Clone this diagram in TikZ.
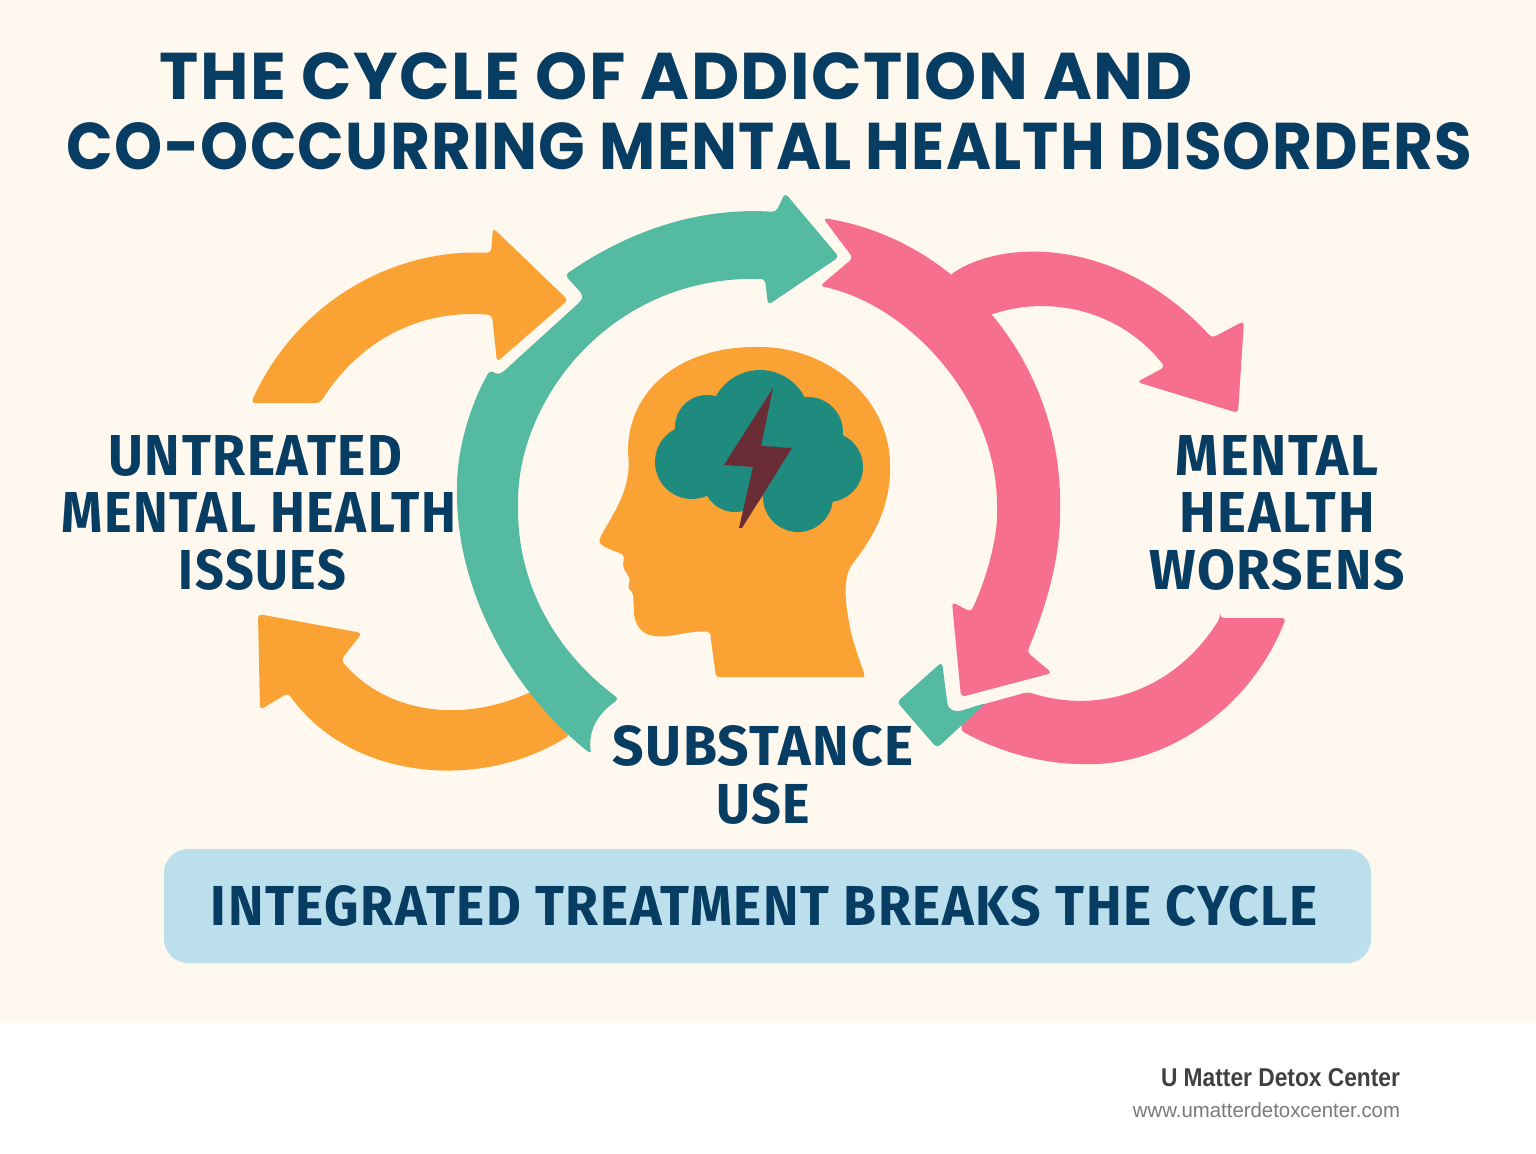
\documentclass[tikz,border=0pt]{standalone}
\usepackage{graphicx}
\usepackage{fontspec}
\setmainfont{Fira Sans}[LetterSpace=3]
\newfontfamily\titlefont{Poppins}[LetterSpace=2]
\newfontfamily\footfont{Liberation Sans}
\definecolor{paper}{HTML}{FEF8EE}
\definecolor{navy}{HTML}{083D63}
\definecolor{amber}{HTML}{FBA234}
\definecolor{mint}{HTML}{54BBA2}
\definecolor{rose}{HTML}{F66F8E}
\definecolor{deepteal}{HTML}{1F8A7E}
\definecolor{bolt}{HTML}{6B2D35}
\definecolor{bandblue}{HTML}{BBDFEC}
\newcommand{\fitline}[3]{\resizebox{#1pt}{#2pt}{#3}}
\tikzset{
  every node/.style={inner sep=0pt, outer sep=0pt},
  labeltext/.style={align=center, text=navy, font=\bfseries\fontsize{29}{28.7}\selectfont},
  titletext/.style={text=navy, font=\titlefont\bfseries},
  amberarrow/.style={fill=amber, rounded corners=2pt},
  mintarrow/.style={fill=mint, rounded corners=2pt},
  rosearrow/.style={fill=rose, rounded corners=2pt}
}
\begin{document}
\begin{tikzpicture}[x=0.5pt,y=-0.5pt]
\useasboundingbox (0,0) rectangle (1536,1154);
\fill[white] (0,0) rectangle (1536,1154);
\fill[paper] (0,0) rectangle (1536,1023);

\node[titletext] (titleone) at (676.5,76.5) {\fitline{516.5}{23.5}{THE CYCLE OF ADDICTION AND}};
\node[titletext] (titletwo) at (769.5,146) {\fitline{702.5}{23.5}{CO-OCCURRING MENTAL HEALTH DISORDERS}};

\fill[amberarrow] (251,403) .. controls (295,305) and (390,248) .. (491,253)
  -- (493,228) -- (568,300) -- (497,362) -- (492,315)
  .. controls (420,309) and (360,340) .. (320,403) -- cycle;
\fill[amberarrow] (258,614) -- (362,633) -- (341,660)
  .. controls (385,712) and (460,725) .. (535,690)
  -- (570,735)
  .. controls (480,792) and (350,780) .. (288,693)
  -- (260,710) -- cycle;

\fill[mintarrow] (591,754) .. controls (510,690) and (457,590) .. (457,490) .. controls (457,450) and (470,405) .. (490,370)
  -- (498,375) -- (503,372) -- (582,300) -- (583,295) -- (565,275)
  .. controls (630,230) and (700,207) .. (776,212)
  -- (785,193) -- (839,257) -- (768,305) -- (765,279)
  .. controls (610,275) and (518,400) .. (518,505) .. controls (518,590) and (560,655) .. (619,699)
  .. controls (600,712) and (588,728) .. (591,754) -- cycle;

\fill[rosearrow] (950,275) .. controls (1005,238) and (1120,238) .. (1212,338)
  -- (1244,321) -- (1238,413) -- (1137,382) -- (1165,367)
  .. controls (1120,310) and (1050,295) .. (990,315) -- (950,320) -- cycle;
\fill[rosearrow] (1220,618) -- (1286,618)
  .. controls (1250,710) and (1165,765) .. (1085,764) .. controls (1040,764) and (995,750) .. (960,730)
  -- (970,708) -- (1028,692)
  .. controls (1100,715) and (1175,690) .. (1220,618) -- cycle;
\fill[rosearrow] (823,218) .. controls (960,240) and (1062,365) .. (1060,510) .. controls (1060,560) and (1045,610) .. (1027,652)
  -- (1052,673) -- (961,697) -- (952,602) -- (971,612)
  .. controls (988,575) and (998,535) .. (997,505) .. controls (995,400) and (910,305) .. (820,286)
  -- (853,258) -- cycle;
\fill[mintarrow] (942,662) -- (897,702) -- (937,748) -- (986,703) -- (957,712) -- (948,708) -- cycle;

\fill[amber, rounded corners=1pt] (628,453) .. controls (628,390) and (680,347) .. (757,347) .. controls (830,347) and (890,400) .. (890,467)
  .. controls (890,505) and (875,535) .. (853,563) .. controls (843,578) and (845,600) .. (849,622) .. controls (853,645) and (860,660) .. (865,677)
  -- (716,677) -- (710,632)
  .. controls (690,630) and (670,638) .. (655,636) .. controls (640,634) and (634,622) .. (634,610) -- (633,593)
  -- (628,588) -- (630,579) -- (623,567) -- (624,555)
  .. controls (610,549) and (598,546) .. (600,538)
  .. controls (612,515) and (632,490) .. (628,453) -- cycle;

\foreach \cx/\cy/\cr in {760/420/50, 707/427/32, 692/462/37, 808/432/35, 828/467/35, 798/497/35, 735/480/32}
  \fill[deepteal] (\cx,\cy) circle (\cr);
\fill[deepteal] (700,420) rectangle (820,490);
\fill[bolt] (773,388) -- (761,446) -- (792,448) -- (742,528) -- (739,528) -- (753,467) -- (724,465) -- cycle;

\node[labeltext] (untreated) at (259,513) {\fitline{147}{20}{UNTREATED}\kern3.5pt\\\fitline{197.5}{20}{MENTAL HEALTH}\\\kern3.5pt\fitline{83.5}{20}{ISSUES}};
\node[labeltext] (worsens) at (1277,513) {\fitline{101.5}{20}{MENTAL}\\\fitline{97.5}{20}{HEALTH}\\\fitline{128}{20}{WORSENS}};
\node[labeltext] (substance) at (763,775) {\fitline{150.5}{20}{SUBSTANCE}\\\fitline{47}{20}{USE}};

\fill[bandblue, rounded corners=12pt] (164,849) rectangle (1371,963);
\node[text=navy, font=\bfseries] (breaks) at (764.5,905.5) {\fitline{553.5}{20}{INTEGRATED TREATMENT BREAKS THE CYCLE}};

\node[text=black!75, font=\footfont\bfseries, anchor=east] (centername) at (1400,1078) {\fitline{119.5}{9}{U Matter Detox Center}};
\node[text=black!52, font=\footfont, anchor=east] (centerurl) at (1400,1110) {\fitline{133.5}{7.5}{www.umatterdetoxcenter.com}};
\end{tikzpicture}
\end{document}
